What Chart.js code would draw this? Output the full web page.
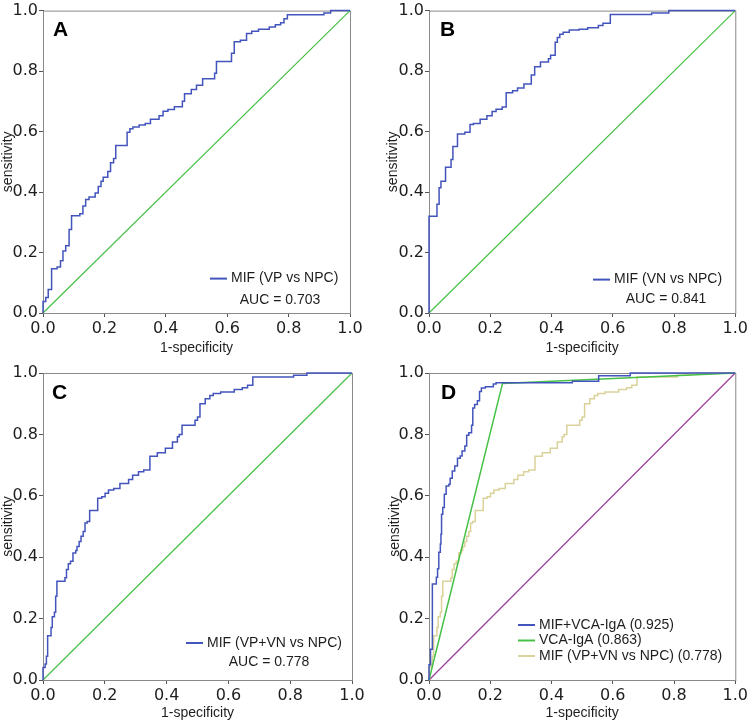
<!DOCTYPE html>
<html>
<head>
<meta charset="utf-8">
<script src="https://cdn.jsdelivr.net/npm/chart.js@4.4.1/dist/chart.umd.min.js"></script>
<style>
  body { margin: 0; background: #fff; }
  canvas { position: absolute; }
</style>
</head>
<body>
<canvas id="chartA" width="375" height="360" style="left:0;top:0"></canvas>
<canvas id="chartB" width="375" height="360" style="left:375px;top:0"></canvas>
<canvas id="chartC" width="375" height="363" style="left:0;top:360px"></canvas>
<canvas id="chartD" width="375" height="363" style="left:375px;top:360px"></canvas>
<script>
// axis ticks (both axes)
const tickValues = [0, 0.2, 0.4, 0.6, 0.8, 1.0];

// reference diagonal
const refX = [0, 1];
const refY = [0, 1];

// A: MIF (VP vs NPC)
const fprA = [0, 0, 0.009, 0.017, 0.028, 0.046, 0.057, 0.065, 0.074, 0.085, 0.093, 0.12, 0.13, 0.139, 0.15, 0.17, 0.18, 0.189, 0.196, 0.211, 0.22, 0.23, 0.237, 0.274, 0.283, 0.293, 0.313, 0.333, 0.35, 0.378, 0.391, 0.407, 0.428, 0.454, 0.461, 0.483, 0.5, 0.52, 0.559, 0.565, 0.614, 0.623, 0.643, 0.663, 0.68, 0.702, 0.737, 0.757, 0.774, 0.785, 0.796, 0.915, 0.937, 1.0];
const tprA = [0, 0.038, 0.051, 0.078, 0.146, 0.152, 0.173, 0.205, 0.222, 0.276, 0.322, 0.328, 0.354, 0.375, 0.384, 0.397, 0.418, 0.436, 0.449, 0.468, 0.497, 0.511, 0.554, 0.598, 0.609, 0.615, 0.622, 0.627, 0.641, 0.652, 0.667, 0.673, 0.682, 0.70, 0.725, 0.739, 0.753, 0.775, 0.793, 0.832, 0.859, 0.897, 0.902, 0.924, 0.932, 0.938, 0.946, 0.953, 0.96, 0.973, 0.986, 0.992, 1.0, 1.0];

// B: MIF (VN vs NPC)
const fprB = [0, 0, 0.026, 0.033, 0.039, 0.054, 0.072, 0.078, 0.093, 0.117, 0.134, 0.145, 0.167, 0.189, 0.206, 0.219, 0.239, 0.252, 0.273, 0.289, 0.31, 0.334, 0.345, 0.364, 0.39, 0.397, 0.412, 0.419, 0.427, 0.438, 0.458, 0.49, 0.518, 0.553, 0.568, 0.592, 0.727, 0.783, 1.0];
const tprB = [0, 0.32, 0.36, 0.414, 0.436, 0.482, 0.508, 0.551, 0.592, 0.598, 0.623, 0.627, 0.641, 0.652, 0.666, 0.674, 0.681, 0.728, 0.735, 0.744, 0.757, 0.787, 0.814, 0.83, 0.841, 0.852, 0.895, 0.911, 0.922, 0.928, 0.936, 0.938, 0.943, 0.951, 0.958, 0.987, 0.992, 1.0, 1.0];

// C: MIF (VP+VN vs NPC), also the third curve in D
const fprC = [0, 0, 0.007, 0.011, 0.015, 0.026, 0.03, 0.037, 0.041, 0.045, 0.071, 0.076, 0.082, 0.089, 0.097, 0.106, 0.11, 0.117, 0.123, 0.13, 0.136, 0.143, 0.151, 0.177, 0.19, 0.201, 0.212, 0.229, 0.249, 0.277, 0.29, 0.309, 0.326, 0.346, 0.37, 0.396, 0.419, 0.435, 0.441, 0.45, 0.492, 0.5, 0.508, 0.525, 0.54, 0.551, 0.575, 0.619, 0.645, 0.662, 0.679, 0.811, 0.854, 1.0];
const tprC = [0, 0.041, 0.052, 0.077, 0.144, 0.171, 0.206, 0.221, 0.273, 0.322, 0.333, 0.36, 0.379, 0.387, 0.414, 0.422, 0.435, 0.451, 0.468, 0.484, 0.511, 0.516, 0.552, 0.592, 0.597, 0.608, 0.619, 0.624, 0.64, 0.653, 0.667, 0.678, 0.684, 0.729, 0.74, 0.755, 0.775, 0.792, 0.8, 0.83, 0.846, 0.857, 0.9, 0.916, 0.927, 0.933, 0.938, 0.946, 0.952, 0.96, 0.987, 0.993, 1.0, 1.0];

// D: MIF+VCA-IgA and VCA-IgA
const fprCombo = [0, 0, 0.005, 0.011, 0.024, 0.028, 0.032, 0.037, 0.039, 0.041, 0.045, 0.05, 0.056, 0.065, 0.069, 0.076, 0.084, 0.093, 0.102, 0.108, 0.117, 0.123, 0.13, 0.139, 0.143, 0.149, 0.158, 0.165, 0.171, 0.184, 0.21, 0.219, 0.468, 0.554, 0.657, 1.0];
const tprCombo = [0, 0.05, 0.1, 0.313, 0.335, 0.362, 0.416, 0.443, 0.475, 0.54, 0.562, 0.605, 0.632, 0.638, 0.657, 0.681, 0.697, 0.722, 0.73, 0.746, 0.762, 0.797, 0.805, 0.83, 0.886, 0.897, 0.91, 0.94, 0.951, 0.955, 0.964, 0.968, 0.973, 0.991, 1.0, 1.0];
const fprVca = [0, 0.24, 1.0];
const tprVca = [0, 0.966, 1.0];

const BLUE = "#4355bc";
const GREEN = "#46c046";
const TAN = "#dad29a";
const PURPLE = "#9a3c9a";
const TEXT = "#1e1e1e";
const FONT = "'Liberation Sans', Arial, sans-serif";

function pts(xs, ys) {
  return xs.map((x, i) => ({ x: x, y: ys[i] }));
}

function curve(label, xs, ys, color, stepped, width) {
  return {
    label: label,
    data: pts(xs, ys),
    borderColor: color,
    borderWidth: width || 1.5,
    stepped: stepped ? "before" : false,
    pointRadius: 0,
    tension: 0,
    fill: false,
    clip: false,
  };
}

// frame, panel letter and in-plot legend
const panelDecor = {
  id: "panelDecor",
  beforeDatasetsDraw(chart, args, opts) {
    const { ctx, chartArea: a } = chart;
    ctx.save();
    ctx.strokeStyle = "#8a8a8a";
    ctx.lineWidth = 1;
    ctx.strokeRect(a.left + 0.5, a.top + 0.5, a.width, a.height);
    ctx.restore();
  },
  afterDraw(chart, args, opts) {
    const { ctx, chartArea: a } = chart;
    ctx.save();
    ctx.fillStyle = "#000";
    ctx.font = "bold 21px " + FONT;
    ctx.textBaseline = "alphabetic";
    ctx.fillText(opts.letter, a.left + opts.letterX, a.top + 25.5);

    ctx.font = "14px " + FONT;
    ctx.textBaseline = "middle";
    opts.items.forEach((it, i) => {
      const y = a.top + opts.legendY + i * 15.5;
      ctx.strokeStyle = it.color;
      ctx.lineWidth = 2;
      ctx.beginPath();
      ctx.moveTo(a.left + opts.lineX, y);
      ctx.lineTo(a.left + opts.lineX + 17, y);
      ctx.stroke();
      ctx.fillStyle = TEXT;
      ctx.textAlign = "left";
      ctx.fillText(it.text, a.left + opts.lineX + 21, y);
    });
    if (opts.auc) {
      ctx.textAlign = "center";
      ctx.fillText(opts.auc, a.left + opts.aucX, a.top + opts.aucY);
    }
    ctx.restore();
  },
};

function axis(title, fitSize, titlePad, isX) {
  return {
    type: "linear",
    min: 0,
    max: 1,
    afterBuildTicks: (s) => { s.ticks = tickValues.map((v) => ({ value: v })); },
    afterFit: (s) => {
      if (isX) s.height = fitSize; else s.width = fitSize;
    },
    grid: { drawOnChartArea: false, drawTicks: true, tickLength: 4, color: "#555" },
    border: { display: true, color: "#555" },
    ticks: {
      color: TEXT,
      font: { family: "'DejaVu Sans', sans-serif", size: 16 },
      padding: isX ? 2 : 1,
      maxRotation: 0,
      autoSkip: false,
      callback: (v) => Number(v).toFixed(1),
    },
    title: {
      display: true,
      text: title,
      color: TEXT,
      font: { family: FONT, size: 14, lineHeight: 1.2 },
      padding: isX ? { top: 0, bottom: titlePad } : { top: titlePad, bottom: 0 },
    },
  };
}

function rocChart(id, datasets, box, decor) {
  return new Chart(document.getElementById(id), {
    type: "line",
    data: { datasets: datasets },
    options: {
      responsive: false,
      animation: false,
      events: [],
      layout: { padding: { left: 0, top: box.top, right: box.right, bottom: 0 } },
      scales: {
        x: axis("1-specificity", box.xHeight, box.xTitlePad, true),
        y: axis("sensitivity", box.yWidth, box.yTitlePad, false),
      },
      plugins: {
        legend: { display: false },
        tooltip: { enabled: false },
        panelDecor: decor,
      },
    },
    plugins: [panelDecor],
  });
}

rocChart("chartA",
  [curve("MIF (VP vs NPC)", fprA, tprA, BLUE, true), curve("ref", refX, refY, GREEN, false, 1.2)],
  { top: 7, right: 25, yWidth: 43, xHeight: 47, yTitlePad: 0, xTitlePad: 3 },
  { letter: "A", letterX: 10, lineX: 167, legendY: 268, items: [{ color: BLUE, text: "MIF (VP vs NPC)" }], auc: "AUC = 0.703", aucX: 237, aucY: 290 });

rocChart("chartB",
  [curve("MIF (VN vs NPC)", fprB, tprB, BLUE, true), curve("ref", refX, refY, GREEN, false, 1.2)],
  { top: 7, right: 13, yWidth: 54, xHeight: 47, yTitlePad: 10, xTitlePad: 3 },
  { letter: "B", letterX: 11, lineX: 164, legendY: 269, items: [{ color: BLUE, text: "MIF (VN vs NPC)" }], auc: "AUC = 0.841", aucX: 237, aucY: 289 });

rocChart("chartC",
  [curve("MIF (VP+VN vs NPC)", fprC, tprC, BLUE, true), curve("ref", refX, refY, GREEN, false, 1.2)],
  { top: 13, right: 23, yWidth: 43, xHeight: 43, yTitlePad: 0, xTitlePad: 1 },
  { letter: "C", letterX: 9, lineX: 143, legendY: 270, items: [{ color: BLUE, text: "MIF (VP+VN vs NPC)" }], auc: "AUC = 0.778", aucX: 226, aucY: 289 });

rocChart("chartD",
  [
    curve("MIF+VCA-IgA (0.925)", fprCombo, tprCombo, BLUE, true),
    curve("VCA-IgA (0.863)", fprVca, tprVca, GREEN, false),
    curve("MIF (VP+VN vs NPC) (0.778)", fprC, tprC, TAN, true),
    curve("ref", refX, refY, PURPLE, false, 1.2),
  ],
  { top: 13, right: 13, yWidth: 54, xHeight: 43, yTitlePad: 12, xTitlePad: 1 },
  { letter: "D", letterX: 12, lineX: 89, legendY: 252, items: [
    { color: BLUE, text: "MIF+VCA-IgA (0.925)" },
    { color: GREEN, text: "VCA-IgA (0.863)" },
    { color: TAN, text: "MIF (VP+VN vs NPC) (0.778)" },
  ] });
</script>
</body>
</html>
